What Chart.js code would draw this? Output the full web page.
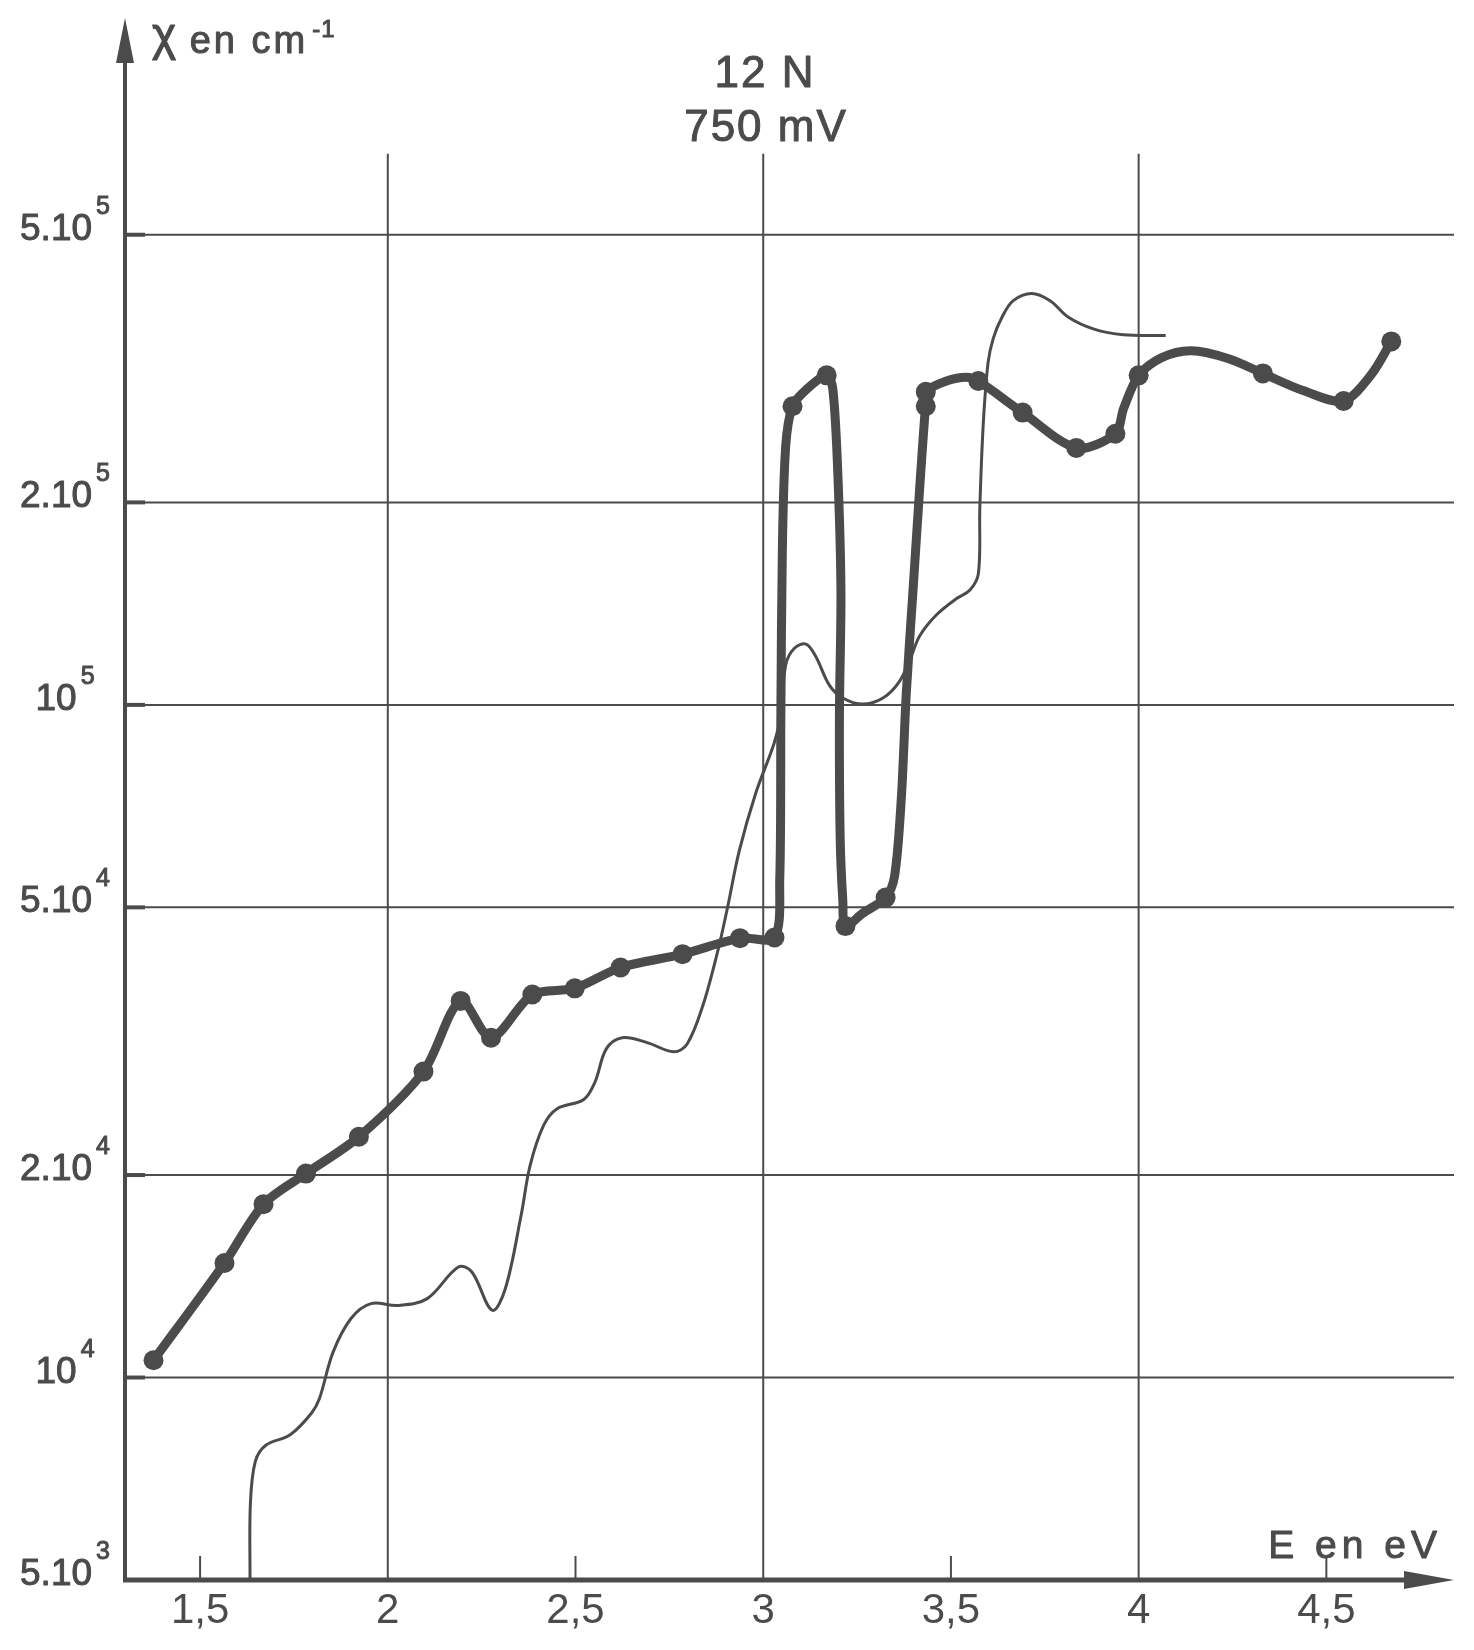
<!DOCTYPE html>
<html>
<head>
<meta charset="utf-8">
<title>12 N - 750 mV</title>
<script src="https://cdn.jsdelivr.net/npm/chart.js"></script>
<style>
  body { margin: 0; background: #fff; }
</style>
</head>
<body>
<canvas id="chart" width="1474" height="1650"></canvas>

<script>
    // thin curve, continuous trace (E in eV, chi in cm-1)
    const thinE = [1.633, 1.634, 1.647, 1.675, 1.74, 1.796, 1.818, 1.854, 1.902, 1.955, 2.027, 2.105, 2.188, 2.224,
        2.278, 2.313, 2.355, 2.379, 2.415, 2.451, 2.522, 2.552, 2.582, 2.624, 2.689, 2.761, 2.797, 2.839, 2.88,
        2.905, 2.936, 2.98, 3.029, 3.047, 3.06, 3.083, 3.114, 3.14, 3.176, 3.212, 3.265, 3.319, 3.363, 3.394,
        3.417, 3.461, 3.515, 3.55, 3.573, 3.577, 3.586, 3.599, 3.613, 3.636, 3.666, 3.715, 3.764, 3.813, 3.881,
        3.959, 4.072];
    const thinChi = [5.0e3, 6.5e3, 7.5e3, 7.93e3, 8.22e3, 8.84e3, 9.31e3, 1.09e4, 1.224e4, 1.288e4, 1.28e4, 1.31e4,
        1.46e4, 1.435e4, 1.259e4, 1.355e4, 1.741e4, 2.065e4, 2.37e4, 2.51e4, 2.59e4, 2.75e4, 3.08e4, 3.2e4,
        3.15e4, 3.05e4, 3.13e4, 3.57e4, 4.33e4, 5.0e4, 6.06e4, 7.39e4, 8.77e4, 9.68e4, 1.147e5, 1.214e5,
        1.231e5, 1.18e5, 1.07e5, 1.024e5, 1.003e5, 1.024e5, 1.084e5, 1.18e5, 1.267e5, 1.36e5, 1.439e5, 1.48e5,
        1.566e5, 1.965e5, 2.61e5, 3.23e5, 3.51e5, 3.77e5, 3.99e5, 4.09e5, 3.99e5, 3.77e5, 3.62e5, 3.55e5, 3.54e5];

    // thick curve through the measured points
    const thickE = [1.376, 1.565, 1.669, 1.782, 1.923, 2.095, 2.194, 2.275, 2.385, 2.498, 2.62, 2.785, 2.938, 3.03,
        3.044, 3.047, 3.051, 3.06, 3.078, 3.114, 3.169, 3.185, 3.198, 3.207, 3.203, 3.205, 3.212, 3.219, 3.265,
        3.326, 3.35, 3.368, 3.381, 3.399, 3.417, 3.43, 3.433, 3.433, 3.488, 3.541, 3.573, 3.691, 3.834, 3.938,
        3.96, 4.0, 4.06, 4.14, 4.24, 4.331, 4.44, 4.546, 4.62, 4.673];
    const thickChi = [1.061e4, 1.48e4, 1.81e4, 2.01e4, 2.28e4, 2.85e4, 3.63e4, 3.2e4, 3.71e4, 3.79e4, 4.07e4, 4.26e4,
        4.5e4, 4.51e4, 5.49e4, 9.68e4, 1.705e5, 2.43e5, 2.78e5, 2.94e5, 3.09e5, 2.96e5, 2.26e5, 1.48e5, 9.68e4,
        6.33e4, 5.12e4, 4.69e4, 4.9e4, 5.17e4, 5.57e4, 7.29e4, 1.039e5, 1.48e5, 2.11e5, 2.68e5, 2.78e5, 2.92e5,
        3.03e5, 3.07e5, 3.03e5, 2.72e5, 2.41e5, 2.53e5, 2.76e5, 3.09e5, 3.28e5, 3.36e5, 3.27e5, 3.11e5, 2.93e5,
        2.83e5, 3.1e5, 3.47e5];

    // measured points
    const dotE = [1.376, 1.565, 1.669, 1.782, 1.923, 2.095, 2.194, 2.275, 2.385, 2.498, 2.62, 2.785, 2.938, 3.03,
        3.078, 3.169, 3.219, 3.326, 3.433, 3.433, 3.573, 3.691, 3.834, 3.938, 4.0, 4.331, 4.546, 4.673];
    const dotChi = [1.061e4, 1.48e4, 1.81e4, 2.01e4, 2.28e4, 2.85e4, 3.63e4, 3.2e4, 3.71e4, 3.79e4, 4.07e4, 4.26e4,
        4.5e4, 4.51e4, 2.78e5, 3.09e5, 4.69e4, 5.17e4, 2.78e5, 2.92e5, 3.03e5, 2.72e5, 2.41e5, 2.53e5, 3.09e5,
        3.11e5, 2.83e5, 3.47e5];

    const xTicks = [1.5, 2, 2.5, 3, 3.5, 4, 4.5];
    const xGrid = [2, 3, 4];
    const yTicks = [5e3, 1e4, 2e4, 5e4, 1e5, 2e5, 5e5];
    const yLabels = [['5.10', '3'], ['10', '4'], ['2.10', '4'], ['5.10', '4'], ['10', '5'], ['2.10', '5'], ['5.10', '5']];

    const ink = '#4b4b4b';
    const font = '"Liberation Sans", Arial, sans-serif';

    function pts(xs, ys) {
        return xs.map((x, i) => ({ x: x, y: ys[i] }));
    }

    function seg(ctx, x1, y1, x2, y2) {
        ctx.beginPath();
        ctx.moveTo(x1, y1);
        ctx.lineTo(x2, y2);
        ctx.stroke();
    }

    // pen lettering is a bit heavier than the plain font
    function inkText(ctx, s, x, y) {
        ctx.fillText(s, x, y);
        ctx.strokeText(s, x, y);
    }

    const paper = {
        id: 'paper',
        beforeDraw(chart) {
            const ctx = chart.ctx;
            ctx.save();
            ctx.fillStyle = '#fff';
            ctx.fillRect(0, 0, chart.width, chart.height);
            ctx.restore();
        },
        beforeDatasetsDraw(chart) {
            const { ctx, chartArea: a, scales: { x, y } } = chart;
            ctx.save();
            ctx.strokeStyle = ink;
            ctx.lineCap = 'butt';

            // horizontal grid
            ctx.lineWidth = 2;
            yTicks.slice(1).forEach(v => {
                const py = y.getPixelForValue(v);
                seg(ctx, a.left, py, a.right, py);
            });
            // little thick marks on the y axis
            ctx.lineWidth = 4;
            yTicks.slice(1).forEach(v => {
                const py = y.getPixelForValue(v);
                seg(ctx, a.left, py, a.left + 20, py);
            });

            // vertical grid, stops below the title
            ctx.lineWidth = 2;
            const gTop = y.getPixelForValue(6.6e5);
            xGrid.forEach(v => {
                const px = x.getPixelForValue(v);
                seg(ctx, px, a.bottom, px, gTop);
            });
            // short ticks at the half values
            xTicks.filter(v => !xGrid.includes(v)).forEach(v => {
                const px = x.getPixelForValue(v);
                seg(ctx, px, a.bottom, px, a.bottom - 24);
            });

            // axes with arrows
            ctx.fillStyle = ink;
            ctx.lineWidth = 4;
            seg(ctx, a.left, a.bottom, a.left, a.top + 30);
            ctx.beginPath();
            ctx.moveTo(a.left, a.top);
            ctx.lineTo(a.left - 9, a.top + 45);
            ctx.lineTo(a.left + 9, a.top + 45);
            ctx.closePath();
            ctx.fill();

            ctx.lineWidth = 5;
            seg(ctx, a.left - 2, a.bottom, a.right - 30, a.bottom);
            ctx.beginPath();
            ctx.moveTo(a.right, a.bottom);
            ctx.lineTo(a.right - 50, a.bottom - 9);
            ctx.lineTo(a.right - 50, a.bottom + 9);
            ctx.closePath();
            ctx.fill();
            ctx.restore();
        },
        afterDraw(chart) {
            const { ctx, scales: { y } } = chart;
            ctx.save();
            ctx.fillStyle = ink;
            ctx.strokeStyle = ink;
            ctx.lineWidth = 1;
            ctx.lineJoin = 'round';
            ctx.textBaseline = 'alphabetic';

            // y tick labels with raised exponent
            yTicks.forEach((v, i) => {
                const base = yLabels[i][0], exp = yLabels[i][1];
                const py = y.getPixelForValue(v) + 5;
                ctx.font = '37px ' + font;
                const wb = ctx.measureText(base).width;
                ctx.font = '25px ' + font;
                const we = ctx.measureText(exp).width;
                const x0 = 65 - (wb + 4 + we) / 2;
                ctx.textAlign = 'left';
                ctx.font = '37px ' + font;
                inkText(ctx, base, x0, py);
                ctx.font = '25px ' + font;
                inkText(ctx, exp, x0 + wb + 4, py - 26);
            });

            // title
            ctx.textAlign = 'center';
            ctx.font = '44px ' + font;
            ctx.letterSpacing = '2px';
            inkText(ctx, '12 N', 765, 87);
            inkText(ctx, '750 mV', 766, 141);

            // axis titles
            ctx.textAlign = 'left';
            ctx.font = '46px ' + font;
            ctx.letterSpacing = '0px';
            inkText(ctx, '\u03c7', 152, 50);
            const wc = ctx.measureText('\u03c7').width;
            ctx.font = '38px ' + font;
            ctx.letterSpacing = '3px';
            inkText(ctx, ' en cm', 152 + wc, 53);
            const wy = wc + ctx.measureText(' en cm').width;
            ctx.font = '24px ' + font;
            ctx.letterSpacing = '1px';
            inkText(ctx, '-1', 152 + wy + 4, 37);

            ctx.textAlign = 'right';
            ctx.font = '39px ' + font;
            ctx.letterSpacing = '5px';
            inkText(ctx, 'E en eV', 1442, 1558);
            ctx.restore();
        }
    };

    const ctx = document.getElementById('chart').getContext('2d');

    new Chart(ctx, {
        type: 'line',
        data: {
            datasets: [{
                label: 'trace',
                data: pts(thinE, thinChi),
                borderColor: ink,
                borderWidth: 3,
                pointRadius: 0,
                tension: 0.35,
                fill: false
            }, {
                label: 'mesures',
                data: pts(thickE, thickChi),
                borderColor: ink,
                borderWidth: 9,
                pointRadius: 0,
                tension: 0.3,
                fill: false
            }, {
                label: 'points',
                data: pts(dotE, dotChi),
                showLine: false,
                pointRadius: 10,
                pointBackgroundColor: ink,
                pointBorderWidth: 0
            }]
        },
        options: {
            responsive: false,
            animation: false,
            layout: { padding: { left: 125, right: 20, top: 18, bottom: 0 } },
            plugins: {
                legend: { display: false },
                tooltip: { enabled: false }
            },
            scales: {
                x: {
                    type: 'linear',
                    min: 1.3,
                    max: 4.84,
                    grid: { display: false },
                    border: { display: false },
                    afterBuildTicks: s => { s.ticks = xTicks.map(v => ({ value: v })); },
                    afterFit: s => { s.height = 70; },
                    ticks: {
                        autoSkip: false,
                        maxRotation: 0,
                        padding: -2,
                        color: ink,
                        font: { family: font, size: 42 },
                        callback: v => String(v).replace('.', ',')
                    }
                },
                y: {
                    type: 'logarithmic',
                    min: 5e3,
                    max: 1.05e6,
                    display: false
                }
            }
        },
        plugins: [paper]
    });
</script>
</body>
</html>
